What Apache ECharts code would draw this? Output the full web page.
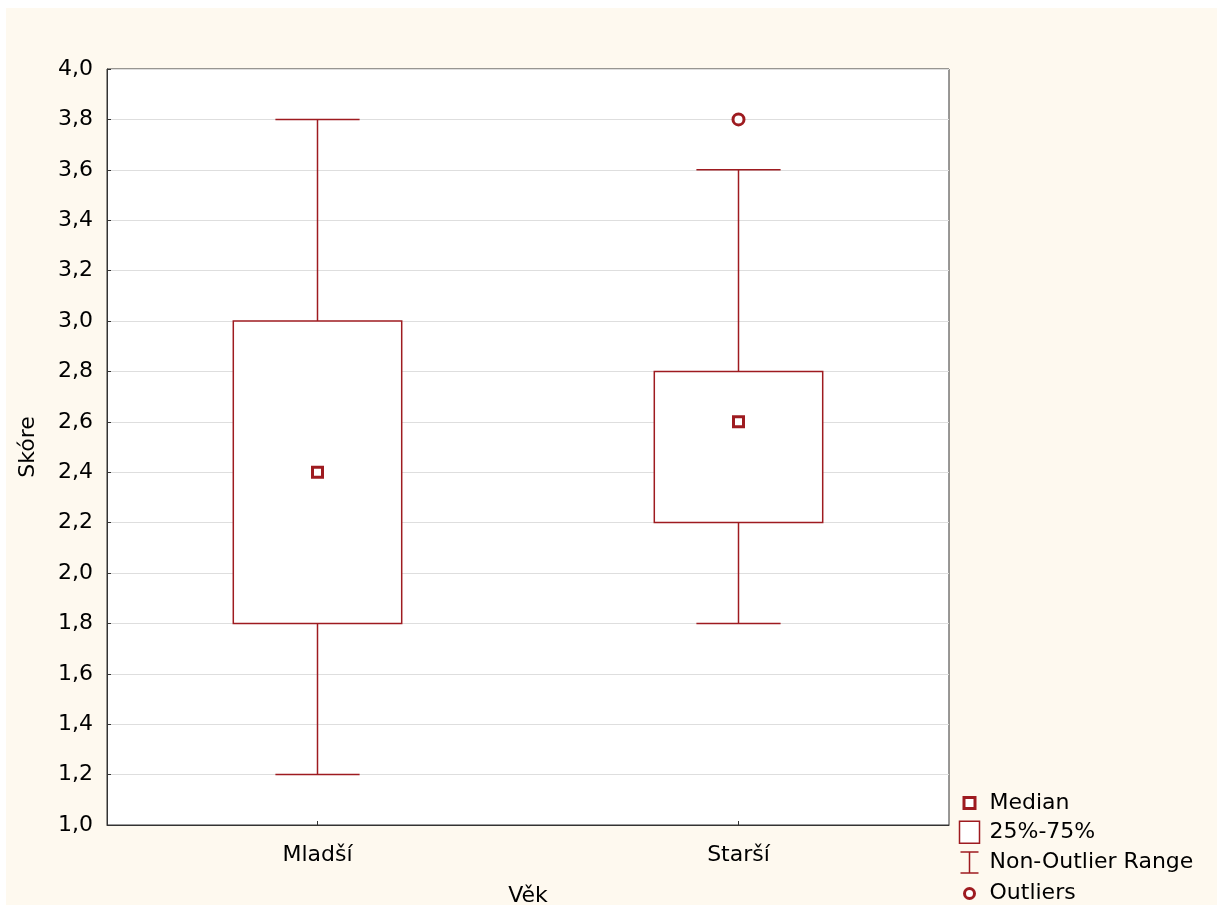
<!DOCTYPE html>
<html>
<head>
<meta charset="utf-8">
<script src="https://cdn.jsdelivr.net/npm/echarts@6/dist/echarts.min.js"></script>
<style>
html,body{margin:0;padding:0;background:#fff;}
#c{width:1222px;height:912px;}
</style>
</head>
<body>
<div id="c"></div>
<script>
var categories = ['Mladší', 'Starší'];
var lowWhisker = [1.2, 1.8];
var q1 = [1.8, 2.2];
var medians = [2.4, 2.6];
var q3 = [3.0, 2.8];
var highWhisker = [3.8, 3.6];
var outliers = [[1, 3.8]];
var yTicks = { min: 1.0, max: 4.0, step: 0.2 };
var legendNames = ['Median', '25%-75%', 'Non-Outlier Range', 'Outliers'];

var RED = '#9e1b20';
var FONT = '"DejaVu Sans", sans-serif';
var FS = 22;

var boxData = categories.map(function (c, i) { return [i, q1[i], q3[i]]; });
var whiskerData = categories.map(function (c, i) { return [i, lowWhisker[i], highWhisker[i], q1[i], q3[i]]; });
var medianData = categories.map(function (c, i) { return [i, medians[i]]; });

var chart = echarts.init(document.getElementById('c'), null, { renderer: 'canvas' });

var option = {
  backgroundColor: '#ffffff',
  animation: false,
  graphic: [{
    type: 'rect', z: -100, silent: true,
    shape: { x: 6, y: 8, width: 1211, height: 897 },
    style: { fill: '#fef9ef' }
  }],
  grid: {
    left: 107, top: 69, width: 842, height: 756,
    show: true, backgroundColor: '#ffffff', borderColor: '#333333', borderWidth: 1
  },
  xAxis: {
    type: 'category',
    data: categories,
    name: 'Věk',
    nameLocation: 'middle',
    nameGap: 60,
    nameTextStyle: { fontSize: FS, color: '#000', fontFamily: FONT },
    axisLine: { lineStyle: { color: '#333333', width: 1 } },
    axisTick: { show: true, inside: true, alignWithLabel: true, length: 4, lineStyle: { color: '#333333' } },
    axisLabel: { fontSize: FS, color: '#000', margin: 19, fontFamily: FONT },
    splitLine: { show: false }
  },
  yAxis: {
    type: 'value',
    min: yTicks.min, max: yTicks.max, interval: yTicks.step,
    name: 'Skóre',
    nameLocation: 'middle',
    nameGap: 68,
    nameRotate: 90,
    nameTextStyle: { fontSize: FS, color: '#000', fontFamily: FONT },
    axisLine: { show: true, lineStyle: { color: '#333333', width: 1 } },
    axisTick: { show: true, inside: true, length: 4, lineStyle: { color: '#333333' } },
    axisLabel: {
      fontSize: FS, color: '#000', margin: 14, fontFamily: FONT, padding: [7, 0, 0, 0],
      formatter: function (v) { return v.toFixed(1).replace('.', ','); }
    },
    splitLine: { show: true, lineStyle: { color: '#dedede', width: 1.2 } }
  },
  legend: {
    orient: 'vertical',
    left: 956, top: 790,
    padding: 0,
    itemWidth: 26, itemHeight: 23, itemGap: 4,
    selectedMode: false,
    textStyle: { fontSize: FS, color: '#000', fontFamily: FONT, lineHeight: 23 },
    data: [
      { name: legendNames[0], icon: 'path://M0,0 M26,23 M5.5,6 L16.5,6 L16.5,17 L5.5,17 Z',
        itemStyle: { color: '#ffffff', borderColor: RED, borderWidth: 3 } },
      { name: legendNames[1], icon: 'path://M0,0 M26,23 M1,0.5 L21,0.5 L21,22.5 L1,22.5 Z',
        itemStyle: { color: '#ffffff', borderColor: RED, borderWidth: 1.5 } },
      { name: legendNames[2], icon: 'path://M0,0 M26,23 M2,1 L20,1 M11,1 L11,22 M2,22 L20,22',
        itemStyle: { color: 'none', borderColor: RED, borderWidth: 1.5 } },
      { name: legendNames[3], icon: 'path://M0,0 M26,23 M6,11.5 A5,5 0 1 0 16,11.5 A5,5 0 1 0 6,11.5 Z',
        itemStyle: { color: '#ffffff', borderColor: RED, borderWidth: 3 } }
    ]
  },
  series: [
    {
      name: legendNames[1],
      type: 'custom',
      data: boxData,
      z: 3,
      encode: { x: 0, y: [1, 2] },
      renderItem: function (params, api) {
        var x = api.value(0);
        var lo = api.coord([x, api.value(1)]);
        var hi = api.coord([x, api.value(2)]);
        var w = api.size([1, 0])[0] * 0.4;
        return {
          type: 'rect',
          shape: { x: lo[0] - w / 2, y: hi[1], width: w, height: lo[1] - hi[1] },
          style: { fill: '#ffffff', stroke: RED, lineWidth: 1.5 }
        };
      }
    },
    {
      name: legendNames[2],
      type: 'custom',
      data: whiskerData,
      z: 3,
      encode: { x: 0, y: [1, 2] },
      renderItem: function (params, api) {
        var x = api.value(0);
        var low = api.coord([x, api.value(1)]);
        var high = api.coord([x, api.value(2)]);
        var bq1 = api.coord([x, api.value(3)]);
        var bq3 = api.coord([x, api.value(4)]);
        var cw = api.size([1, 0])[0] * 0.2;
        var st = { stroke: RED, lineWidth: 1.5 };
        return {
          type: 'group',
          children: [
            { type: 'line', shape: { x1: high[0], y1: high[1], x2: bq3[0], y2: bq3[1] }, style: st },
            { type: 'line', shape: { x1: bq1[0], y1: bq1[1], x2: low[0], y2: low[1] }, style: st },
            { type: 'line', shape: { x1: high[0] - cw / 2, y1: high[1], x2: high[0] + cw / 2, y2: high[1] }, style: st },
            { type: 'line', shape: { x1: low[0] - cw / 2, y1: low[1], x2: low[0] + cw / 2, y2: low[1] }, style: st }
          ]
        };
      }
    },
    {
      name: legendNames[0],
      type: 'scatter',
      data: medianData,
      z: 5,
      symbol: 'rect',
      symbolSize: 10,
      itemStyle: { color: '#ffffff', borderColor: RED, borderWidth: 3, opacity: 1 }
    },
    {
      name: legendNames[3],
      type: 'scatter',
      data: outliers,
      z: 5,
      symbol: 'circle',
      symbolSize: 11,
      itemStyle: { color: '#ffffff', borderColor: RED, borderWidth: 3, opacity: 1 }
    }
  ]
};
chart.setOption(option);
</script>
</body>
</html>
